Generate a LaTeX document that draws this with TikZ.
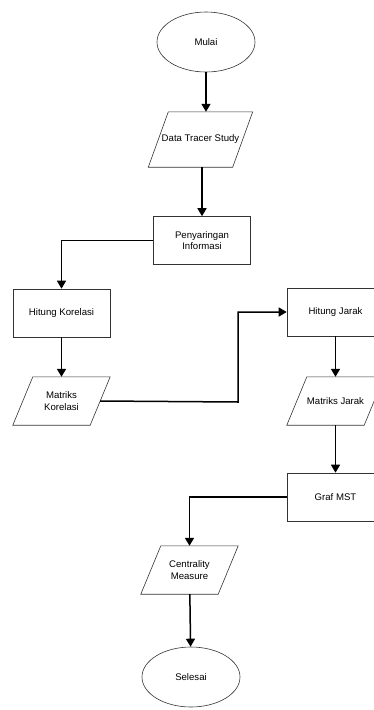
\documentclass[tikz,border=0pt]{standalone}
\usepackage{fontspec}
\setmainfont{Liberation Sans}
\usetikzlibrary{shapes.geometric,arrows.meta}

\begin{document}
\begin{tikzpicture}[x = 1pt, y = -1pt, font = \fontsize{9.6}{11.5}\selectfont,
  proses/.style = {rectangle, draw = black!80, line width = .6pt, minimum width = 97pt, minimum height = 48pt, align = center},
  masukan/.style = {rectangle, minimum width = 77pt, minimum height = 48pt, inner sep = 1pt, align = center,
    append after command = {\pgfextra{\draw [black!80, line width = .6pt]
      ([xshift = -10pt]\tikzlastnode.south west) -- ([xshift = -10pt]\tikzlastnode.south east)
      -- ([xshift = 10pt]\tikzlastnode.north east) -- ([xshift = 10pt]\tikzlastnode.north west) -- cycle;}}},
  ujung/.style = {ellipse, draw = black!80, line width = .6pt, minimum width = 98pt, minimum height = 60pt},
  panah/.style = {-{Triangle[width = 9pt, length = 8pt]}, line width = 1.5pt}]
  \useasboundingbox (0,0) rectangle (373,710);
  \node (mulai) [ujung] at (206,42) {Mulai};
  \node (data) [masukan, minimum width = 84pt, minimum height = 55pt] at (200.5,139.5) {Data Tracer Study};
  \node (saring) [proses] at (202,240.5) {Penyaringan\\Informasi};
  \node (korelasi) [proses] at (61.5,313) {Hitung Korelasi};
  \node (mkorelasi) [masukan] at (61.5,401) {Matriks\\Korelasi};
  \node (jarak) [proses] at (335.5,312) {Hitung Jarak};
  \node (mjarak) [masukan] at (335.5,401) {Matriks Jarak};
  \node (mst) [proses] at (335.5,497) {Graf MST};
  \node (central) [masukan] at (189.5,570) {Centrality\\Measure};
  \node (selesai) [ujung] at (191,677) {Selesai};
  \coordinate (tekuk) at (238,402);
  \draw [panah] (mulai) -- (mulai |- data.north);
  \draw [panah] (saring |- data.south) -- (saring);
  \draw [panah] (saring.west) -| (korelasi);
  \draw [panah] (korelasi) -- (mkorelasi);
  \draw [panah] (mkorelasi.east) -- (tekuk) |- (jarak);
  \draw [panah] (jarak) -- (mjarak);
  \draw [panah] (mjarak) -- (mst);
  \draw [panah] (mst.west) -| (central);
  \draw [panah] (central) -- (selesai);
\end{tikzpicture}
\end{document}
